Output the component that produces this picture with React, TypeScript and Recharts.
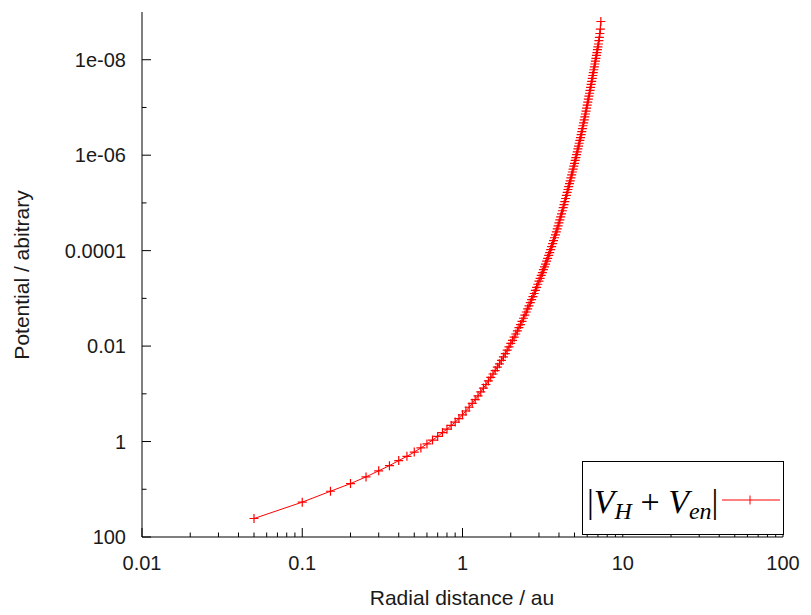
import React from 'react';
import { LineChart, Line, XAxis, YAxis, Legend, Customized } from 'recharts';

// radial distance (au), one point every 0.05 au
const radius = [
  0.05, 0.1, 0.15, 0.2, 0.25, 0.3, 0.35, 0.4, 0.45, 0.5,
  0.55, 0.6, 0.65, 0.7, 0.75, 0.8, 0.85, 0.9, 0.95, 1,
  1.05, 1.1, 1.15, 1.2, 1.25, 1.3, 1.35, 1.4, 1.45, 1.5,
  1.55, 1.6, 1.65, 1.7, 1.75, 1.8, 1.85, 1.9, 1.95, 2,
  2.05, 2.1, 2.15, 2.2, 2.25, 2.3, 2.35, 2.4, 2.45, 2.5,
  2.55, 2.6, 2.65, 2.7, 2.75, 2.8, 2.85, 2.9, 2.95, 3,
  3.05, 3.1, 3.15, 3.2, 3.25, 3.3, 3.35, 3.4, 3.45, 3.5,
  3.55, 3.6, 3.65, 3.7, 3.75, 3.8, 3.85, 3.9, 3.95, 4,
  4.05, 4.1, 4.15, 4.2, 4.25, 4.3, 4.35, 4.4, 4.45, 4.5,
  4.55, 4.6, 4.65, 4.7, 4.75, 4.8, 4.85, 4.9, 4.95, 5,
  5.05, 5.1, 5.15, 5.2, 5.25, 5.3, 5.35, 5.4, 5.45, 5.5,
  5.55, 5.6, 5.65, 5.7, 5.75, 5.8, 5.85, 5.9, 5.95, 6,
  6.05, 6.1, 6.15, 6.2, 6.25, 6.3, 6.35, 6.4, 6.45, 6.5,
  6.55, 6.6, 6.65, 6.7, 6.75, 6.8, 6.85, 6.9, 6.95, 7,
  7.05, 7.1, 7.15, 7.2, 7.25, 7.3,
];

// |V_H + V_en|
const potential = [
  41, 18.6, 11.0, 7.6, 5.5, 4.1, 3.2, 2.5, 2.04, 1.66,
  1.36, 1.12, 0.93, 0.78, 0.65, 0.55, 0.46, 0.39, 0.33, 0.275,
  0.229, 0.191, 0.158, 0.132, 0.11, 0.0912, 0.0759, 0.0638, 0.0537, 0.0452,
  0.0384, 0.0326, 0.0277, 0.0235, 0.02, 0.0169, 0.0144, 0.0122, 0.0104, 0.00881,
  0.00757, 0.0065, 0.00558, 0.0048, 0.00412, 0.00354, 0.00304, 0.00261, 0.00224, 0.00193,
  1.66e-3, 1.43e-3, 1.23e-3, 1.06e-3, 9.16e-4, 7.91e-4, 6.81e-4, 5.87e-4, 5.06e-4, 4.37e-4,
  3.8e-4, 3.31e-4, 2.88e-4, 2.51e-4, 2.19e-4, 1.91e-4, 1.66e-4, 1.45e-4, 1.26e-4, 1.1e-4,
  9.51e-5, 8.24e-5, 7.14e-5, 6.19e-5, 5.37e-5, 4.66e-5, 4.04e-5, 3.5e-5, 3.03e-5, 2.63e-5,
  2.27e-5, 1.96e-5, 1.69e-5, 1.46e-5, 1.26e-5, 1.09e-5, 9.38e-6, 8.09e-6, 6.98e-6, 6.03e-6,
  5.24e-6, 4.55e-6, 3.95e-6, 3.44e-6, 2.99e-6, 2.59e-6, 2.25e-6, 1.96e-6, 1.7e-6, 1.48e-6,
  1.29e-6, 1.12e-6, 9.77e-7, 8.51e-7, 7.41e-7, 6.46e-7, 5.62e-7, 4.9e-7, 4.27e-7, 3.72e-7,
  3.22e-7, 2.79e-7, 2.42e-7, 2.1e-7, 1.82e-7, 1.58e-7, 1.37e-7, 1.19e-7, 1.03e-7, 8.91e-8,
  7.73e-8, 6.7e-8, 5.81e-8, 5.04e-8, 4.37e-8, 3.78e-8, 3.28e-8, 2.84e-8, 2.47e-8, 2.14e-8,
  1.86e-8, 1.62e-8, 1.41e-8, 1.23e-8, 1.07e-8, 9.33e-9, 8.13e-9, 7.08e-9, 6.17e-9, 5.37e-9,
  4.68e-9, 3.98e-9, 3.39e-9, 2.82e-9, 2.29e-9, 1.58e-9,
];

const xMajor = [0.01, 0.1, 1, 10, 100];
const xTickLabels = ['0.01', '0.1', '1', '10', '100'];
const xTicks = [
  0.01, 0.02, 0.03, 0.04, 0.05, 0.06, 0.07, 0.08, 0.09,
  0.1, 0.2, 0.3, 0.4, 0.5, 0.6, 0.7, 0.8, 0.9,
  1, 2, 3, 4, 5, 6, 7, 8, 9,
  10, 20, 30, 40, 50, 60, 70, 80, 90, 100,
];

const yMajor = [100, 1, 0.01, 1e-4, 1e-6, 1e-8];
const yTickLabels = ['100', '1', '0.01', '0.0001', '1e-06', '1e-08'];
const yTicks = [100, 10, 1, 0.1, 0.01, 1e-3, 1e-4, 1e-5, 1e-6, 1e-7, 1e-8];

const data = radius.map((r, i) => ({ radius: r, potential: potential[i] }));

const RED = '#ff0000';
const INK = '#1a1a1a';
const FONT = '"Liberation Sans", Arial, sans-serif';
const MAJOR = 9;
const MINOR = 4.5;

const BottomTick = ({ x, y, payload }: any) => {
  const i = xMajor.indexOf(payload.value);
  return (
    <g>
      <line x1={x} x2={x} y1={y} y2={y - (i >= 0 ? MAJOR : MINOR)} stroke="#000" />
      {i >= 0 && (
        <text x={x} y={y + 33} textAnchor="middle" fontFamily={FONT} fontSize={20} fill={INK}>
          {xTickLabels[i]}
        </text>
      )}
    </g>
  );
};

const TopTick = ({ x, y, payload }: any) => {
  const major = xMajor.includes(payload.value);
  return <line x1={x} x2={x} y1={y} y2={y + (major ? MAJOR : MINOR)} stroke="#000" />;
};

const LeftTick = ({ x, y, payload }: any) => {
  const i = yMajor.indexOf(payload.value);
  return (
    <g>
      <line x1={x} x2={x + (i >= 0 ? MAJOR : MINOR)} y1={y} y2={y} stroke="#000" />
      {i >= 0 && (
        <text x={x - 16} y={y + 7} textAnchor="end" fontFamily={FONT} fontSize={20} fill={INK}>
          {yTickLabels[i]}
        </text>
      )}
    </g>
  );
};

const RightTick = ({ x, y, payload }: any) => {
  const major = yMajor.includes(payload.value);
  return <line x1={x} x2={x - (major ? MAJOR : MINOR)} y1={y} y2={y} stroke="#000" />;
};

const PlusDot = (props: any) => {
  const { cx, cy, index } = props;
  if (cx == null || cy == null) return <g key={index} />;
  return (
    <path
      key={index}
      d={`M${cx - 4.5},${cy}h9M${cx},${cy - 4.5}v9`}
      stroke={RED}
      strokeWidth={1.2}
      fill="none"
    />
  );
};

const LegendBox = () => (
  <svg width={202} height={74} style={{ display: 'block' }}>
    <rect x={0.5} y={0.5} width={201} height={73} fill="#fff" stroke="#000" />
    <text x={5} y={52} fontFamily='"Liberation Serif", "DejaVu Serif", serif' fontSize={34} fill="#000">
      <tspan>|</tspan>
      <tspan fontStyle="italic">V</tspan>
      <tspan fontStyle="italic" fontSize={24} dy={6}>H</tspan>
      <tspan dy={-6}> + </tspan>
      <tspan fontStyle="italic">V</tspan>
      <tspan fontStyle="italic" fontSize={24} dy={6}>en</tspan>
      <tspan dy={-6}>|</tspan>
    </text>
    <line x1={140} x2={198} y1={39} y2={39} stroke={RED} strokeWidth={1} />
    <path d="M168,34.5v9" stroke={RED} strokeWidth={1} />
  </svg>
);

const Titles = () => (
  <g fontFamily={FONT} fontSize={21} fill={INK}>
    <text x={462} y={605} textAnchor="middle">Radial distance / au</text>
    <text x={29} y={275} textAnchor="middle" transform="rotate(-90 29 275)">Potential / abitrary</text>
  </g>
);

export default function App() {
  return (
    <div style={{ position: 'absolute', left: 0, top: 0, background: '#fff' }}>
      <LineChart width={811} height={615} data={data} margin={{ top: 12, right: 28, bottom: 0, left: 0 }}>
        <XAxis
          dataKey="radius"
          type="number"
          scale="log"
          domain={[0.01, 100]}
          allowDataOverflow
          ticks={xTicks}
          interval={0}
          tick={<BottomTick />}
          tickLine={false}
          tickSize={0}
          tickMargin={0}
          axisLine={{ stroke: '#000' }}
          height={78}
        />
        <XAxis
          xAxisId="top"
          orientation="top"
          type="number"
          scale="log"
          domain={[0.01, 100]}
          allowDataOverflow
          ticks={xTicks}
          interval={0}
          tick={<TopTick />}
          tickLine={false}
          tickSize={0}
          tickMargin={0}
          axisLine={{ stroke: '#000' }}
          height={0}
        />
        <YAxis
          type="number"
          scale="log"
          domain={[1e-9, 100]}
          allowDataOverflow
          reversed
          ticks={yTicks}
          interval={0}
          tick={<LeftTick />}
          tickLine={false}
          tickSize={0}
          tickMargin={0}
          axisLine={{ stroke: '#000' }}
          width={142}
        />
        <YAxis
          yAxisId="right"
          orientation="right"
          type="number"
          scale="log"
          domain={[1e-9, 100]}
          allowDataOverflow
          reversed
          ticks={yTicks}
          interval={0}
          tick={<RightTick />}
          tickLine={false}
          tickSize={0}
          tickMargin={0}
          axisLine={{ stroke: '#000' }}
          width={0}
        />
        <Line
          type="linear"
          dataKey="potential"
          name="|V_H + V_en|"
          stroke={RED}
          strokeWidth={1}
          dot={PlusDot}
          activeDot={false}
          isAnimationActive={false}
        />
        <Legend
          layout="vertical"
          align="center"
          verticalAlign="middle"
          wrapperStyle={{ left: 582, top: 461, width: 202, height: 74 }}
          content={LegendBox}
        />
        <Customized component={Titles} />
      </LineChart>
    </div>
  );
}
